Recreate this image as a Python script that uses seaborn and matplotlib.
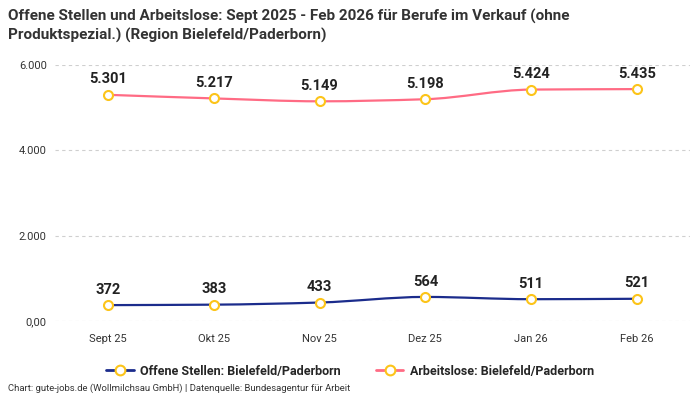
import matplotlib
matplotlib.use("Agg")
import matplotlib.pyplot as plt
from matplotlib.path import Path
from matplotlib.patches import PathPatch
from matplotlib.lines import Line2D
import seaborn as sns
import numpy as np
import pandas as pd

months = ["Sept 25", "Okt 25", "Nov 25", "Dez 25", "Jan 26", "Feb 26"]
offene_stellen = [372, 383, 433, 564, 511, 521]
arbeitslose = [5301, 5217, 5149, 5198, 5424, 5435]
series_names = ["Offene Stellen: Bielefeld/Paderborn", "Arbeitslose: Bielefeld/Paderborn"]
yticks = [0, 2000, 4000, 6000]
ytick_labels = ["0,00", "2.000", "4.000", "6.000"]

NAVY = "#1b2c8c"
PINK = "#ff6b84"
YELLOW = "#fcc419"
FONT = ["Roboto", "DejaVu Sans"]


def fmt(v):
    return f"{v:,}".replace(",", ".")


def smooth_path(xs, ys):
    # monotone cubic (Fritsch-Carlson) as bezier segments
    xs = np.asarray(xs, float)
    ys = np.asarray(ys, float)
    h = np.diff(xs)
    d = np.diff(ys) / h
    m = np.zeros_like(ys)
    m[0], m[-1] = d[0], d[-1]
    for i in range(1, len(ys) - 1):
        if d[i - 1] * d[i] <= 0:
            m[i] = 0
        else:
            m[i] = 2 / (1 / d[i - 1] + 1 / d[i])
    verts = [(xs[0], ys[0])]
    codes = [Path.MOVETO]
    for i in range(len(xs) - 1):
        verts += [(xs[i] + h[i] / 3, ys[i] + m[i] * h[i] / 3),
                  (xs[i + 1] - h[i] / 3, ys[i + 1] - m[i + 1] * h[i] / 3),
                  (xs[i + 1], ys[i + 1])]
        codes += [Path.CURVE4] * 3
    return Path(verts, codes)


sns.set_theme(style="white")
plt.rcParams["font.family"] = FONT

df = pd.DataFrame({
    "Monat": months * 2,
    "Wert": offene_stellen + arbeitslose,
    "Reihe": [series_names[0]] * len(months) + [series_names[1]] * len(months),
})
df["x"] = list(range(len(months))) * 2

fig = plt.figure(figsize=(7, 4), dpi=100)
ax = fig.add_axes([0.0786, 0.1975, 0.907, 0.64])

for name, color in zip(series_names, [NAVY, PINK]):
    sub = df[df["Reihe"] == name]
    ax.add_patch(PathPatch(smooth_path(sub["x"], sub["Wert"]), facecolor="none",
                           edgecolor=color, lw=1.6, zorder=2))
    sns.scatterplot(data=sub, x="x", y="Wert", ax=ax, s=42, color="white",
                    edgecolor=YELLOW, linewidth=1.5, zorder=3, legend=False)
    for xi, v in zip(sub["x"], sub["Wert"]):
        ax.annotate(fmt(v), (xi, v), xytext=(0, 6), textcoords="offset points",
                    ha="center", va="bottom", fontsize=10.5, fontweight="bold",
                    color="#222222")

ax.set_xlim(-0.5, len(months) - 0.5)
ax.set_ylim(0, 6000)
ax.set_xticks(range(len(months)))
ax.set_xticklabels(months, fontsize=8, color="#333333")
ax.set_yticks(yticks)
ax.set_yticklabels(ytick_labels, fontsize=8, color="#333333")
ax.tick_params(axis="both", length=0, pad=6)
ax.tick_params(axis="x", pad=9)
ax.yaxis.grid(True, color="#cfcfcf", linestyle=(0, (3, 3)), lw=0.8)
ax.xaxis.grid(False)
ax.set_xlabel("")
ax.set_ylabel("")
for s in ax.spines.values():
    s.set_visible(False)

handles = [Line2D([], [], color=c, lw=2, marker="o", markersize=7,
                  markerfacecolor="white", markeredgecolor=YELLOW, markeredgewidth=1.5)
           for c in [NAVY, PINK]]
fig.legend(handles, series_names, loc="center", bbox_to_anchor=(0.5, 0.072),
           ncol=2, frameon=False, prop={"family": FONT, "weight": "bold", "size": 9},
           handlelength=2.2, columnspacing=2.8, handletextpad=0.5)

fig.text(0.011, 0.977, "Offene Stellen und Arbeitslose: Sept 2025 - Feb 2026 für Berufe im Verkauf (ohne\n"
         "Produktspezial.) (Region Bielefeld/Paderborn)", ha="left", va="top",
         fontsize=11, fontweight="bold", color="#333333", linespacing=1.35)
fig.text(0.011, 0.017, "Chart: gute-jobs.de (Wollmilchsau GmbH) | Datenquelle: Bundesagentur für Arbeit",
         ha="left", va="bottom", fontsize=6.8, color="#333333")

fig.savefig("out.png", dpi=100)
